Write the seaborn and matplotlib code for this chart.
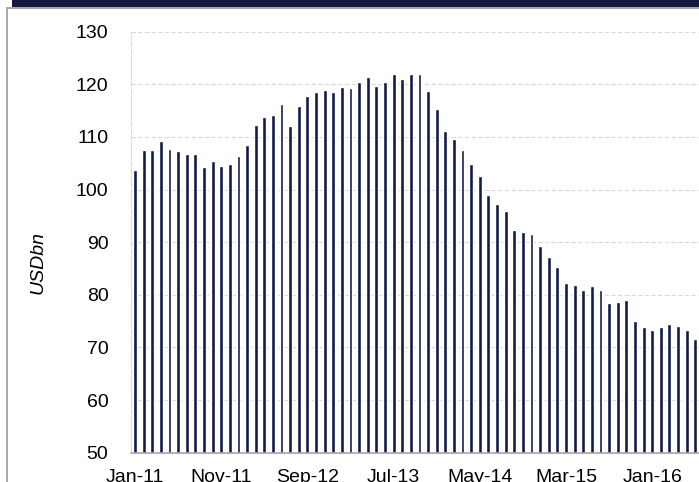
import matplotlib
matplotlib.use("Agg")
import matplotlib.pyplot as plt
from matplotlib.lines import Line2D
from matplotlib.patches import Rectangle
import seaborn as sns
import pandas as pd

# Monthly values, Jan-2011 onwards (USD bn)
months = list(pd.date_range("2011-01-01", periods=66, freq="MS").strftime("%b-%y"))
values = [
    103.7, 107.5, 107.5, 109.2, 107.7, 107.3, 106.7, 106.7, 104.3, 105.5,
    104.5, 104.8, 106.3, 108.4, 112.2, 113.8, 114.1, 116.3, 112.1, 115.9,
    117.8, 118.5, 119.0, 118.5, 119.4, 119.3, 120.5, 121.4, 119.7, 120.4,
    122.0, 121.1, 122.0, 122.0, 118.8, 115.3, 111.2, 109.6, 107.5, 104.8,
    102.6, 98.9, 97.3, 96.0, 92.4, 92.0, 91.6, 89.3, 87.1, 85.3,
    82.2, 81.9, 80.9, 81.6, 81.0, 78.5, 78.7, 79.0, 75.0, 73.8,
    73.3, 73.8, 74.4, 74.0, 73.3, 71.7,
]
tick_labels = ["Jan-11", "Nov-11", "Sep-12", "Jul-13", "May-14", "Mar-15", "Jan-16"]
y_ticks = [50, 60, 70, 80, 90, 100, 110, 120, 130]
y_label = "USDbn"

NAVY = "#111c46"
GRID = "#d9d9d9"

sns.set_style("white")
plt.rcParams["font.family"] = ["Liberation Sans", "DejaVu Sans"]

W, H = 699, 482
fig = plt.figure(figsize=(W / 100, H / 100), dpi=100)
ax = fig.add_axes([130.7 / W, 29.3 / H, 568.9 / W, 421.0 / H])

df = pd.DataFrame({"month": months, "value": values})
sns.barplot(data=df, x="month", y="value", color=NAVY, saturation=1,
            width=0.45, ax=ax, order=months)

ax.set_xlim(-0.5, len(months) - 0.5)
ax.set_ylim(50, 130)
ax.set_yticks(y_ticks)
ax.set_yticklabels([str(v) for v in y_ticks])

# Labels under the bars every 10 months, tick marks on the category boundaries
label_pos = [months.index(t) for t in tick_labels]
ax.set_xticks(label_pos)
ax.set_xticklabels(tick_labels)
ax.set_xticks([p - 0.5 for p in label_pos], minor=True)
ax.tick_params(axis="x", which="major", length=0, pad=12, labelsize=14, colors="#000000")
ax.tick_params(axis="x", which="minor", length=5, width=1, color="#a6a6a6")
ax.tick_params(axis="y", which="major", length=6.5, width=0.8, color=GRID, pad=9.5,
               labelsize=14, labelcolor="#000000")

ax.set_xlabel("")
ax.set_ylabel("")

# Dashed horizontal gridlines
ax.yaxis.grid(True, color=GRID, linestyle=(0, (4, 2)), linewidth=0.8)
ax.set_axisbelow(True)

for s in ("top", "right"):
    ax.spines[s].set_visible(False)
ax.spines["left"].set_color(GRID)
ax.spines["left"].set_linestyle((0, (4, 2)))
ax.spines["left"].set_linewidth(0.8)
ax.spines["bottom"].set_color("#a6a6a6")
ax.spines["bottom"].set_linewidth(1.2)

fig.text(38 / W, 1 - 263 / H, y_label, rotation=90, fontsize=14, style="italic",
         ha="center", va="center", color="#000000")

# Header band and panel border
fig.patches.append(Rectangle((12 / W, 1 - 7 / H), 1, 7 / H, transform=fig.transFigure,
                             facecolor="#121a40", edgecolor="none"))
fig.lines.append(Line2D([7 / W, 7 / W], [0, 1 - 8 / H], transform=fig.transFigure,
                        color="#9a9a9a", linewidth=1.2))
fig.lines.append(Line2D([7 / W, 1], [1 - 8 / H, 1 - 8 / H], transform=fig.transFigure,
                        color="#9a9a9a", linewidth=1.2))

fig.savefig("out.png", dpi=100)
